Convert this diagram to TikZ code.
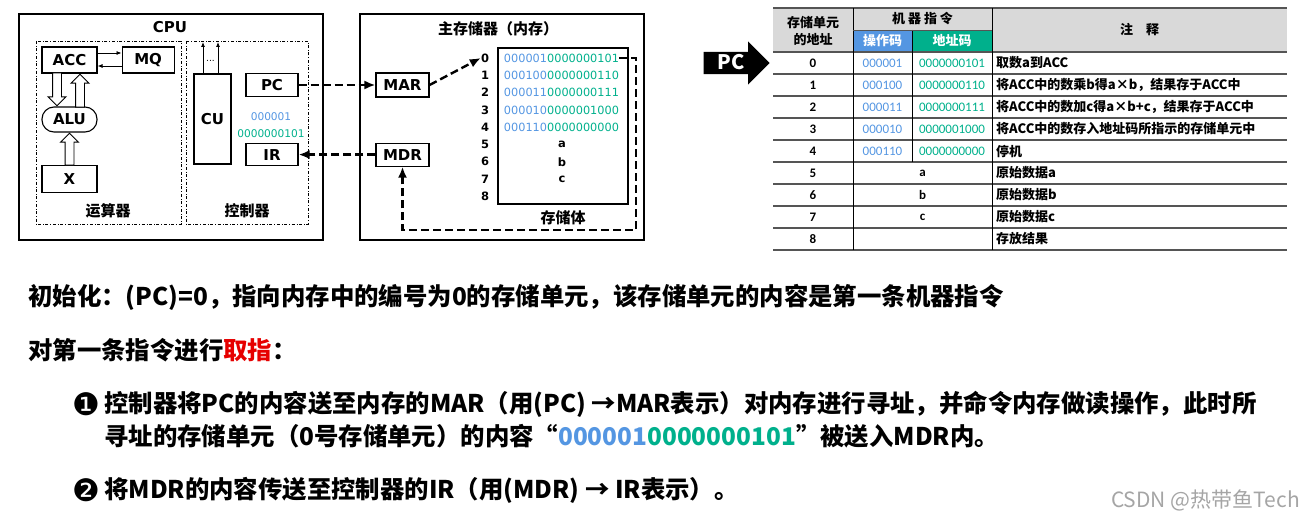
\documentclass[tikz,border=0pt]{standalone}
\usepackage{fontspec}
\usepackage{tikz}
\usetikzlibrary{positioning,arrows.meta,shapes.arrows,calc}
\setmainfont{DejaVu Sans}
\newfontfamily\cjk{Noto Sans CJK SC}
\newfontfamily\tabfont{Carlito}
\newfontfamily\dingfont{DejaVu Sans}
\definecolor{opcolor}{RGB}{84,150,226}
\definecolor{adcolor}{RGB}{0,176,140}
\definecolor{hdrgray}{RGB}{217,217,217}
\definecolor{rulegray}{RGB}{85,85,85}
\definecolor{keyred}{RGB}{230,0,0}
\definecolor{csdngray}{RGB}{165,165,165}

\begin{document}
\begin{tikzpicture}[x=1pt, y=-1pt,
  reg/.style      = {draw, line width=1.1pt, fill=white, inner sep=0pt,
                     font=\fontsize{15}{15}\selectfont\bfseries},
  outerbox/.style = {draw, line width=1.2pt},
  unitbox/.style  = {draw, dash dot, line width=0.8pt},
  title/.style    = {inner sep=0pt, font=\cjk\fontsize{15}{15}\selectfont\bfseries},
  hollow/.style   = {single arrow, draw, line width=0.9pt, fill=white, inner sep=4pt,
                     single arrow head extend=4.5pt, anchor=tip},
  wire/.style     = {-{Latex[length=5pt,width=4pt]}, line width=0.8pt},
  bus/.style      = {-{Latex[length=11pt,width=9pt]}, line width=2.4pt,
                     dash pattern=on 8pt off 4pt},
  bits/.style     = {inner sep=0pt, font=\fontsize{11.3}{12}\selectfont},
  addr/.style     = {inner sep=0pt, font=\fontsize{11.5}{12}\selectfont\bfseries},
  hdr/.style      = {inner sep=0pt, align=center, font=\cjk\fontsize{13}{17}\selectfont\bfseries},
  cell/.style     = {inner sep=0pt, font=\tabfont\fontsize{13}{13}\selectfont},
  note/.style     = {inner sep=0pt, anchor=west, font=\cjk\fontsize{13}{13}\selectfont\bfseries},
  tabrule/.style  = {draw=rulegray, line width=1.6pt},
  say/.style      = {inner sep=0pt, anchor=west, font=\cjk\fontsize{24.4}{24.4}\selectfont\bfseries},
  numdot/.style   = {inner sep=0pt, font=\dingfont\fontsize{31}{31}\selectfont}
]
\useasboundingbox (0,0) rectangle (1305,524);

\draw[outerbox] (19,14) rectangle (323,240);
\draw[unitbox] (36,41) rectangle (181,224);
\draw[unitbox] (186,41) rectangle (308,224);
\node[font=\fontsize{15}{15}\selectfont\bfseries, inner sep=0pt] (cpu) at (170,27) {CPU};
\node[title] (alu-lbl) at (108,211) {运算器};
\node[title] (cu-lbl)  at (247,211) {控制器};

\node[reg, minimum width=55pt, minimum height=26pt] (acc) at (69.5,60) {ACC};
\node[reg, minimum width=52pt, minimum height=26pt, right=24pt of acc] (mq) {MQ};
\node[reg, rounded corners=12pt, minimum width=55pt, minimum height=25pt] (alu) at (69.5,119.5) {ALU};
\node[reg, minimum width=55pt, minimum height=27pt, below=32pt of alu] (xr) {X};
\node[reg, minimum width=37pt, minimum height=90pt] (cu) at (212.5,119) {CU};
\node[reg, minimum width=52pt, minimum height=23pt] (pc) at (272,85) {PC};

\draw[wire] ($(acc.east)+(0,-7)$) -- ($(mq.west)+(0,-7)$);
\draw[wire] ($(mq.west)+(0,6)$) -- ($(acc.east)+(0,6)$);

\node[hollow, minimum height=33pt, shape border rotate=270] (acc-alu) at ($(alu.north)+(-12.5,0)$) {};
\node[hollow, minimum height=33pt, shape border rotate=90]  (alu-acc) at ($(acc.south)+(10.5,0)$) {};
\node[hollow, minimum height=32pt, shape border rotate=90]  (x-alu)   at (alu.south) {};

\coordinate (cu-out1) at (203,42);
\coordinate (cu-out2) at (218,42);
\draw[wire] (cu.north -| cu-out1) -- (cu-out1);
\draw[wire] (cu.north -| cu-out2) -- (cu-out2);
\node[inner sep=0pt, font=\fontsize{9}{9}\selectfont] (cu-dots) at (210.5,61) {...};

\node[bits, font=\fontsize{10.6}{11}\selectfont, text=opcolor] (ir-op) at (271,117) {000001};
\node[bits, font=\fontsize{10.6}{11}\selectfont, text=adcolor] (ir-ad) at (271,134) {0000000101};

\draw[outerbox] (360,14) rectangle (644,240);
\draw[line width=1.1pt] (498,48) rectangle (628,204);
\node[title] (mem) at (498,29) {主存储器（内存）};
\node[title] (bank) at (563,218) {存储体};

\node[reg, minimum width=53pt, minimum height=24pt] (mar) at (402.5,85) {MAR};
\node[reg, minimum width=53pt, minimum height=23pt, below=45pt of mar] (mdr) {MDR};
\node[reg, minimum width=52pt, minimum height=22pt] (ir) at (pc |- mdr) {IR};

\foreach \i in {0,...,8}
  \node[addr] (n\i) at (485,58+17.3*\i) {\i};
\foreach \i/\op/\ad in {0/000001/0000000101, 1/000100/0000000110, 2/000011/0000000111,
                        3/000010/0000001000, 4/000110/0000000000}
  \node[bits] (s\i) at (561.5,58+17.3*\i) {\textcolor{opcolor}{\op}\textcolor{adcolor}{\ad}};
\foreach \i/\v in {5/a, 6/b, 7/c}
  \node[addr] (s\i) at (562,58+17.3*\i) {\v};

\coordinate (loop) at (636,230);
\draw[bus] (pc.east) -- (mar.west);
\draw[bus] (mar.east) -- (n0.west);
\draw[bus] (s0.east) -| (loop) -| (mdr.south);
\draw[bus] (mdr.west) -- (ir.east);

\node[single arrow, fill=black, text=white, minimum height=66pt,
      text height=14pt, text depth=0pt, inner xsep=0pt, inner ysep=4pt,
      single arrow head extend=10.5pt, anchor=tip,
      font=\cjk\fontsize{20}{20}\selectfont\bfseries] (pc-ptr) at (770,63) {PC};

\fill[hdrgray] (773,8) rectangle (1287,52);
\fill[opcolor] (853,30) rectangle (912,52);
\fill[adcolor] (912,30) rectangle (992,52);
\draw[tabrule] (773,8) -- (1287,8);
\foreach \y in {52,74,...,250}
  \draw[tabrule] (773,\y) -- (1287,\y);
\draw[line width=0.8pt] (853,8) -- (853,250);
\draw[line width=0.8pt] (992,8) -- (992,250);
\draw[line width=0.8pt] (912,30) -- (912,162);
\draw[draw=rulegray, line width=0.8pt] (853,30) -- (992,30);

\node[hdr] (h-addr) at (813,31) {存储单元\\的地址};
\node[hdr] (h-ins)  at (922.5,19) {机\ 器\ 指\ 令};
\node[hdr, text=white] (h-op) at (882.5,41) {操作码};
\node[hdr, text=white] (h-ad) at (952,41) {地址码};
\node[hdr] (h-note) at (1139.5,30) {注\quad 释};

\foreach \i/\txt in {0/取数a到ACC, 1/将ACC中的数乘b得a×b，结果存于ACC中,
                     2/将ACC中的数加c得a×b+c，结果存于ACC中,
                     3/将ACC中的数存入地址码所指示的存储单元中, 4/停机,
                     5/原始数据a, 6/原始数据b, 7/原始数据c, 8/存放结果}{
  \node[cell, font=\tabfont\fontsize{13}{13}\selectfont\bfseries] (t-n\i) at (813,63+22*\i) {\i};
  \node[note] (t-c\i) at (996,63+22*\i) {\txt};
}
\foreach \i/\op/\ad in {0/000001/0000000101, 1/000100/0000000110, 2/000011/0000000111,
                        3/000010/0000001000, 4/000110/0000000000}{
  \node[cell, text=opcolor] (t-op\i) at (882.5,63+22*\i) {\op};
  \node[cell, text=adcolor] (t-ad\i) at (952,63+22*\i) {\ad};
}
\foreach \i/\v in {5/a, 6/b, 7/c}
  \node[cell, font=\tabfont\fontsize{13}{13}\selectfont\bfseries] (t-v\i) at (922.5,63+22*\i) {\v};

\node[say] (init)   at (28,297) {初始化：(PC)=0，指向内存中的编号为0的存储单元，该存储单元的内容是第一条机器指令};
\node[say] (fetch)  at (28,350) {对第一条指令进行\textcolor{keyred}{取指}：};
\node[numdot] (one) at (86,404) {❶};
\node[say] (step1a) at (104,404) {控制器将PC的内容送至内存的MAR（用(PC) →MAR表示）对内存进行寻址，并命令内存做读操作，此时所};
\node[say] (step1b) at (104,436) {寻址的存储单元（0号存储单元）的内容“\textcolor{opcolor}{000001}\textcolor{adcolor}{0000000101}”被送入MDR内。};
\node[numdot] (two) at (86,490) {❷};
\node[say] (step2)  at (104,490) {将MDR的内容传送至控制器的IR（用(MDR) → IR表示）。};

\node[inner sep=0pt, anchor=east, text=csdngray, font=\cjk\fontsize{21}{21}\selectfont] (csdn) at (1300,500) {CSDN @热带鱼Tech};
\end{tikzpicture}
\end{document}
